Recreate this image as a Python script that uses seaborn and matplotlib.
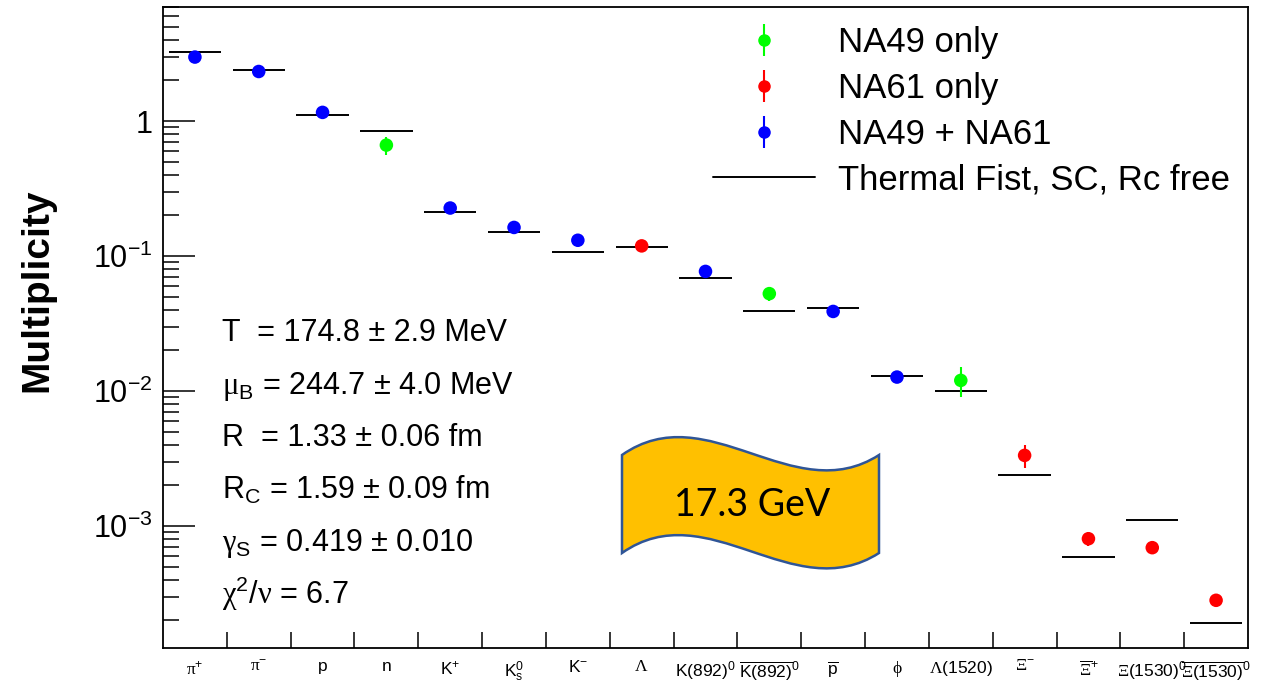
import numpy as np
import pandas as pd
import matplotlib
matplotlib.use("Agg")
import matplotlib.pyplot as plt
import seaborn as sns
from matplotlib.lines import Line2D
from matplotlib.path import Path
from matplotlib.patches import PathPatch
from matplotlib.ticker import FixedLocator, FixedFormatter, LogLocator, NullFormatter
from matplotlib.legend_handler import HandlerTuple

# ---- data -------------------------------------------------------------
particles = [
    r"$\mathrm{\pi}^{+}$", r"$\mathrm{\pi}^{-}$", "p", "n",
    r"$\mathsf{K}^{+}$", r"$\mathsf{K}^{0}_{s}$", r"$\mathsf{K}^{-}$",
    r"$\mathrm{\Lambda}$", r"$\mathsf{K(892)}^{0}$",
    r"$\overline{\mathsf{K(892)}}^{0}$", r"$\overline{\mathsf{p}}$",
    r"$\mathrm{\phi}$", r"$\mathrm{\Lambda}\mathsf{(1520)}$",
    r"$\mathrm{\Xi}^{-}$", r"$\overline{\mathrm{\Xi}}^{+}$",
    r"$\mathrm{\Xi}\mathsf{(1530)}^{0}$",
    r"$\overline{\mathrm{\Xi}\mathsf{(1530)}}^{0}$",
]
measured = [2.98, 2.33, 1.16, 0.664, 0.227, 0.163, 0.131, 0.119, 0.0770,
            0.0527, 0.0389, 0.0127, 0.0120, 0.00334, 8.06e-4, 6.92e-4, 2.82e-4]
measured_err = [0.15, 0.10, 0.06, 0.10, 0.012, 0.009, 0.008, 0.008, 0.004,
                0.006, 0.002, 0.0007, 0.003, 0.00065, 1.0e-4, 0.5e-4, 0.25e-4]
source = ["NA49 + NA61", "NA49 + NA61", "NA49 + NA61", "NA49 only",
          "NA49 + NA61", "NA49 + NA61", "NA49 + NA61", "NA61 only",
          "NA49 + NA61", "NA49 only", "NA49 + NA61", "NA49 + NA61",
          "NA49 only", "NA61 only", "NA61 only", "NA61 only", "NA61 only"]
thermal_fist = [3.24, 2.39, 1.10, 0.849, 0.212, 0.152, 0.107, 0.116, 0.0687,
                0.0389, 0.0414, 0.0129, 0.0101, 0.00238, 5.89e-4, 1.10e-3, 1.92e-4]

group_order = ["NA49 only", "NA61 only", "NA49 + NA61"]
group_colors = {"NA49 only": "#00ff00", "NA61 only": "#ff0000",
                "NA49 + NA61": "#0000ff"}
model_label = "Thermal Fist, SC, Rc free"

fit_lines = [
    "T  = 174.8 \u00b1 2.9 MeV",
    "$\\mathrm{\\mu}_{\\mathsf{B}}$ = 244.7 \u00b1 4.0 MeV",
    "R  = 1.33 \u00b1 0.06 fm",
    "R$_{\\mathsf{C}}$ = 1.59 \u00b1 0.09 fm",
    "$\\mathrm{\\gamma}_{\\mathsf{S}}$ = 0.419 \u00b1 0.010",
    "$\\mathrm{\\chi}^{2}/\\mathrm{\\nu}$ = 6.7",
]
energy_label = "17.3 GeV"
y_major = [1e-3, 1e-2, 1e-1, 1.0]
y_major_labels = [r"$10^{-3}$", r"$10^{-2}$", r"$10^{-1}$", "1"]

# ---- style ------------------------------------------------------------
sns.set_style("white")
plt.rcParams["font.family"] = ["Liberation Sans", "DejaVu Sans"]
plt.rcParams["mathtext.fontset"] = "custom"
plt.rcParams["mathtext.rm"] = "Liberation Serif"
plt.rcParams["mathtext.sf"] = "Liberation Sans"
plt.rcParams["mathtext.it"] = "Liberation Sans:italic"
plt.rcParams["mathtext.bf"] = "Liberation Sans:bold"
plt.rcParams["mathtext.default"] = "sf"
for key in ["text.color", "axes.labelcolor", "xtick.color", "ytick.color",
            "axes.edgecolor"]:
    plt.rcParams[key] = "black"

W, H = 1263, 684
fig = plt.figure(figsize=(W / 100, H / 100), dpi=100)


def fx(px):
    return px / W


def fy(py):
    return 1 - py / H


ax = fig.add_axes([fx(163), fy(648), fx(1248) - fx(163), fy(7) - fy(648)])

df = pd.DataFrame({
    "pos": np.arange(len(particles)),
    "value": measured,
    "err": measured_err,
    "source": source,
    "model": thermal_fist,
})

# thermal model values as horizontal bars across each bin
ax.hlines(df["model"], df["pos"] - 0.41, df["pos"] + 0.41,
          color="black", lw=1.4, zorder=2)

# measured yields with error bars
for g in group_order:
    sub = df[df["source"] == g]
    ax.errorbar(sub["pos"], sub["value"], yerr=sub["err"], fmt="none",
                ecolor=group_colors[g], elinewidth=1.5, capsize=0, zorder=3)
sns.scatterplot(data=df, x="pos", y="value", hue="source",
                hue_order=group_order, palette=group_colors, s=95,
                edgecolor="none", legend=False, ax=ax, zorder=4)

ax.set_yscale("log")
ax.set_ylim(1.25e-4, 7.0)
ax.set_xlim(-0.5, len(particles) - 0.5)

# axes decoration
ax.yaxis.set_major_locator(FixedLocator(y_major))
ax.yaxis.set_major_formatter(FixedFormatter(y_major_labels))
ax.yaxis.set_minor_locator(LogLocator(base=10, subs=np.arange(2, 10)))
ax.yaxis.set_minor_formatter(NullFormatter())
ax.tick_params(axis="y", which="major", direction="in", length=23, width=1.1,
               labelsize=22, pad=7.5, left=True, right=False)
ax.tick_params(axis="y", which="minor", direction="in", length=11.5, width=1.1,
               left=True, right=False)

ax.set_xticks(df["pos"])
ax.set_xticklabels(particles)
ax.set_xticks(np.arange(0.5, len(particles) - 0.5), minor=True)
ax.tick_params(axis="x", which="major", length=0, labelsize=12.5, pad=8)
ax.tick_params(axis="x", which="minor", direction="in", length=11.5,
               width=1.1, bottom=True, top=False)
ax.set_xlabel("")

for sp in ax.spines.values():
    sp.set_linewidth(1.3)

ax.set_ylabel("Multiplicity", fontsize=28, fontweight="bold", va="center")
ax.yaxis.set_label_coords(fx(37 - 163) / (fx(1248) - fx(163)),
                          (648 - 290) / (648 - 7))

# legend
handles = []
for g in group_order:
    c = group_colors[g]
    bar = Line2D([], [], marker="|", markersize=23, mew=1.5, color=c,
                 linestyle="none")
    dot = Line2D([], [], marker="o", markersize=8, color=c,
                 linestyle="none")
    handles.append((bar, dot))
handles.append(Line2D([], [], color="black", lw=1.4))
labels = group_order + [model_label]
ax.legend(handles, labels, handler_map={tuple: HandlerTuple(ndivide=1)},
          loc="upper left", bbox_to_anchor=((713 - 163) / 1085, (648 - 26) / 641),
          frameon=False, fontsize=25, handlelength=2.95, handletextpad=0.66,
          labelspacing=0.37, borderpad=0, borderaxespad=0)

# fit parameters
for i, line in enumerate(fit_lines):
    fig.text(fx(222), fy(341 + 52.6 * i), line, fontsize=22, va="baseline",
             ha="left")

# energy banner
x0, x1 = 622, 879
top, bot = 455, 553
verts = [
    (x0, top), (x0 + 85.7, top - 60), (x0 + 171.3, top + 55), (x1, top),
    (x1, bot),
    (x0 + 171.3, bot + 55), (x0 + 85.7, bot - 60), (x0, bot),
    (x0, top),
]
codes = [Path.MOVETO, Path.CURVE4, Path.CURVE4, Path.CURVE4, Path.LINETO,
         Path.CURVE4, Path.CURVE4, Path.CURVE4, Path.CLOSEPOLY]
banner = PathPatch(Path([(fx(x), fy(y)) for x, y in verts], codes),
                   transform=fig.transFigure, facecolor="#ffc000",
                   edgecolor="#2f5597", lw=1.8, zorder=5)
fig.patches.append(banner)
fig.text(fx(752), fy(505), energy_label, family=["Lato", "DejaVu Sans"],
         fontsize=27, ha="center", va="center", zorder=6)

fig.savefig("out.png", dpi=100)
